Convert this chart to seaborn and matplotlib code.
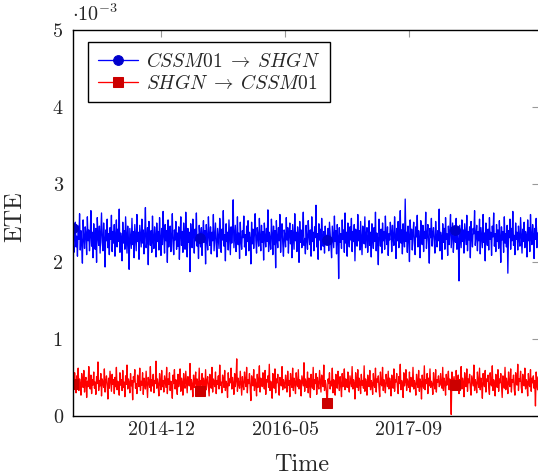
import numpy as np
import pandas as pd
import matplotlib
matplotlib.use("Agg")
import matplotlib.pyplot as plt
import seaborn as sns

# ETE values in units of 1e-5 (one value per sample)
cssm_to_shgn = [
    244, 226, 212, 238, 251, 219, 233, 207, 246, 229, 262, 215, 240, 223, 198, 254, 231, 217, 245, 236, 209, 258, 227, 241, 214, 233, 266, 220, 238, 205,
    249, 228, 216, 243, 199, 257, 232, 221, 246, 211, 238, 263, 225, 214, 250, 230, 193, 241, 227, 255, 218, 236, 209, 244, 229, 260, 213, 239, 224, 248,
    207, 235, 254, 219, 242, 226, 268, 212, 237, 229, 201, 251, 224, 240, 216, 258, 233, 211, 246, 227, 190, 243, 230, 217, 256, 222, 239, 205, 248, 231,
    214, 261, 226, 238, 203, 247, 232, 219, 255, 224, 241, 210, 236, 270, 218, 229, 244, 196, 252, 235, 221, 240, 212, 259, 228, 217, 245, 233, 206, 250,
    226, 239, 215, 257, 230, 208, 243, 222, 265, 234, 211, 248, 227, 240, 199, 254, 219, 236, 246, 213, 231, 262, 224, 209, 241, 228, 252, 216, 237, 220,
    245, 203, 234, 258, 221, 239, 212, 250, 229, 216, 264, 232, 206, 243, 225, 238, 187, 249, 230, 218, 255, 236, 211, 242, 227, 263, 220, 233, 204, 247,
    231, 219, 244, 208, 236, 253, 225, 240, 197, 248, 229, 215, 258, 234, 221, 245, 210, 238, 227, 261, 214, 232, 250, 223, 206, 243, 230, 217, 256, 236,
    212, 242, 228, 266, 220, 235, 201, 249, 226, 238, 215, 254, 231, 209, 245, 224, 240, 280, 218, 233, 247, 213, 229, 258, 222, 237, 204, 251, 227, 216,
    240, 231, 259, 219, 235, 208, 246, 226, 253, 214, 238, 229, 197, 251, 223, 242, 217, 236, 262, 228, 211, 244, 233, 220, 256, 230, 214, 247, 225, 239,
    202, 250, 232, 219, 243, 226, 267, 213, 238, 229, 216, 255, 235, 209, 246, 222, 240, 192, 253, 230, 218, 244, 227, 261, 212, 236, 249, 224, 207, 241,
    233, 219, 257, 228, 244, 211, 236, 250, 223, 240, 205, 248, 231, 216, 262, 227, 238, 213, 245, 234, 199, 252, 225, 241, 218, 236, 264, 221, 230, 210,
    247, 229, 216, 253, 235, 222, 241, 207, 258, 226, 238, 214, 245, 231, 273, 219, 236, 203, 249, 228, 242, 215, 256, 233, 220, 239, 211, 246, 227, 234,
    228, 243, 214, 251, 237, 222, 205, 246, 231, 218, 259, 226, 240, 210, 248, 233, 178, 244, 225, 236, 217, 254, 229, 241, 212, 263, 224, 238, 207, 250,
    232, 219, 245, 228, 256, 213, 239, 226, 248, 201, 242, 234, 220, 261, 227, 240, 215, 252, 230, 209, 246, 236, 223, 258, 218, 235, 244, 212, 229, 253,
    221, 238, 206, 249, 231, 217, 244, 226, 264, 214, 237, 229, 196, 255, 233, 220, 242, 211, 250, 227, 239, 216, 259, 232, 222, 245, 208, 236, 228, 251,
    239, 213, 247, 230, 221, 258, 234, 204, 243, 227, 252, 218, 236, 266, 224, 241, 210, 249, 231, 219, 281, 226, 238, 212, 246, 233, 200, 254, 229, 242,
    215, 237, 251, 224, 209, 245, 232, 260, 219, 240, 228, 205, 253, 236, 222, 247, 213, 239, 230, 264, 217, 234, 248, 225, 198, 243, 231, 256, 220, 237,
    244, 226, 211, 252, 233, 219, 240, 227, 268, 214, 238, 231, 203, 249, 225, 243, 216, 257, 229, 236, 208, 246, 222, 239, 261, 218, 235, 250, 212, 230,
    241, 225, 256, 216, 238, 229, 175, 247, 232, 218, 254, 226, 241, 211, 249, 235, 222, 260, 214, 239, 228, 245, 205, 252, 231, 219, 243, 236, 266, 221,
    233, 247, 214, 239, 227, 255, 210, 244, 230, 218, 261, 225, 237, 201, 250, 234, 221, 242, 215, 257, 229, 238, 208, 246, 232, 263, 220, 236, 213, 248,
    226, 241, 217, 253, 232, 199, 245, 228, 239, 212, 258, 224, 236, 219, 247, 185, 240, 231, 255, 216, 243, 227, 265, 221, 234, 209, 250, 229, 238, 215,
    246, 230, 220, 257, 235, 211, 242, 226, 251, 218, 239, 233, 206, 254, 227, 244, 213, 261, 231, 222, 248, 236, 204, 243, 229, 256, 218, 237, 225, 268,
]
shgn_to_cssm = [
    41, 47, 35, 56, 39, 30, 52, 44, 62, 33, 48, 41, 27, 55, 43, 37, 59, 31, 46, 50, 24, 45, 38, 64, 42, 35, 53, 29, 47, 40,
    57, 36, 44, 28, 51, 42, 70, 33, 46, 39, 55, 26, 48, 43, 37, 61, 31, 45, 52, 40, 22, 49, 36, 58, 44, 32, 54, 41, 47, 29,
    50, 38, 63, 34, 45, 42, 27, 56, 40, 47, 33, 59, 37, 44, 25, 52, 41, 66, 35, 48, 43, 30, 55, 39, 46, 21, 51, 44, 60, 36,
    42, 29, 53, 47, 38, 62, 33, 45, 40, 56, 28, 49, 43, 35, 58, 41, 24, 50, 44, 37, 64, 32, 47, 39, 54, 30, 46, 42, 71, 36,
    48, 40, 26, 55, 43, 34, 59, 38, 46, 31, 52, 44, 37, 63, 29, 48, 41, 56, 33, 45, 39, 23, 53, 42, 60, 35, 47, 40, 28, 54,
    38, 45, 61, 32, 49, 43, 27, 55, 40, 36, 58, 44, 30, 51, 46, 39, 68, 34, 47, 41, 25, 53, 37, 44, 57, 31, 48, 42, 35, 62,
    32, 46, 40, 55, 28, 49, 43, 37, 60, 34, 45, 51, 39, 26, 54, 42, 36, 63, 31, 48, 44, 38, 57, 29, 46, 41, 52, 35, 66, 40,
    44, 30, 53, 47, 37, 59, 33, 45, 41, 24, 56, 39, 48, 43, 62, 35, 50, 42, 28, 55, 38, 46, 74, 32, 49, 41, 36, 58, 43, 27,
    51, 40, 34, 57, 45, 38, 63, 30, 47, 42, 55, 36, 20, 52, 44, 39, 60, 33, 48, 41, 26, 54, 37, 46, 65, 31, 49, 43, 38, 56,
    42, 35, 59, 28, 47, 44, 52, 37, 67, 33, 45, 40, 23, 55, 42, 36, 61, 30, 48, 43, 54, 38, 27, 50, 45, 39, 64, 34, 47, 41,
    36, 53, 44, 31, 58, 40, 46, 25, 55, 42, 37, 62, 33, 49, 44, 29, 56, 41, 38, 60, 35, 47, 43, 26, 52, 45, 39, 69, 32, 48,
    43, 37, 57, 30, 49, 44, 24, 54, 41, 36, 63, 34, 47, 42, 55, 28, 50, 40, 35, 59, 45, 31, 53, 43, 38, 66, 33, 46, 41, 27,
    17, 48, 42, 56, 35, 45, 39, 62, 30, 47, 43, 27, 54, 40, 36, 58, 44, 33, 51, 41, 25, 55, 38, 46, 61, 34, 48, 42, 37, 57,
    40, 31, 52, 45, 38, 64, 35, 47, 42, 22, 56, 41, 37, 60, 33, 49, 44, 29, 54, 40, 46, 36, 65, 32, 48, 43, 27, 53, 41, 38,
    59, 34, 46, 42, 28, 55, 40, 37, 62, 31, 48, 44, 52, 36, 25, 57, 42, 39, 63, 33, 47, 41, 30, 54, 45, 38, 58, 35, 49, 43,
    26, 53, 40, 36, 61, 32, 47, 44, 55, 38, 29, 51, 42, 67, 34, 46, 41, 24, 56, 39, 45, 60, 33, 48, 43, 37, 57, 31, 50, 42,
    38, 63, 35, 46, 41, 27, 54, 43, 37, 59, 32, 48, 44, 22, 53, 40, 36, 65, 34, 47, 42, 55, 29, 49, 39, 61, 37, 45, 41, 28,
    56, 42, 35, 60, 31, 47, 44, 52, 38, 40, 55, 41, 36, 63, 33, 49, 43, 27, 54, 40, 46, 58, 34, 48, 42, 2, 57, 39, 45, 51,
    40, 34, 59, 43, 37, 53, 29, 47, 42, 64, 35, 49, 44, 25, 56, 40, 38, 61, 32, 48, 43, 54, 36, 27, 52, 45, 39, 66, 33, 47,
    42, 30, 57, 44, 37, 62, 34, 49, 41, 23, 55, 43, 38, 59, 31, 48, 45, 53, 36, 28, 56, 42, 39, 65, 33, 47, 41, 26, 54, 44,
    37, 60, 32, 48, 43, 55, 39, 24, 52, 45, 36, 63, 34, 49, 42, 29, 57, 41, 38, 61, 31, 47, 44, 53, 35, 27, 56, 43, 40, 67,
    33, 48, 45, 58, 37, 30, 54, 42, 39, 62, 35, 47, 44, 26, 55, 41, 38, 60, 32, 49, 43, 52, 36, 46, 13, 57, 40, 34, 51, 8,
]
tick_labels = ["2014-12", "2016-05", "2017-09"]
series_labels = [r"$CSSM01 \;\rightarrow\; SHGN$", r"$SHGN \;\rightarrow\; CSSM01$"]

sns.set_theme(style="white")
plt.rcParams["font.family"] = "serif"
plt.rcParams["font.serif"] = ["cmr10"]
plt.rcParams["mathtext.fontset"] = "cm"
plt.rcParams["axes.unicode_minus"] = False
plt.rcParams["axes.formatter.use_mathtext"] = True

n = len(cssm_to_shgn)
df = pd.DataFrame({
    "idx": np.arange(n),
    "a": np.array(cssm_to_shgn) / 100.0,
    "b": np.array(shgn_to_cssm) / 100.0,
})
mark_step = 180

fig = plt.figure(figsize=(5.38, 4.75), dpi=100)
ax = fig.add_axes([72.5 / 538, 59 / 475, 466.5 / 538, 386 / 475])

sns.lineplot(data=df, x="idx", y="a", ax=ax, color="#0000ff", lw=0.95,
             marker="o", markersize=7, markevery=mark_step, mfc="#0000cc", mec="#0000cc",
             label=series_labels[0])
sns.lineplot(data=df, x="idx", y="b", ax=ax, color="#ff0000", lw=0.95,
             marker="s", markersize=6.5, markevery=mark_step, mfc="#cc0000", mec="#cc0000",
             label=series_labels[1])

ax.set_xlim(0, n - 1)
ax.set_ylim(0, 5)
ax.set_yticks([0, 1, 2, 3, 4, 5])
ax.set_yticklabels(["0", "1", "2", "3", "4", "5"])
step = (n - 1) * 123.6 / 466.5
ax.set_xticks([step * (0.72 + k) for k in range(len(tick_labels))])
ax.set_xticklabels(tick_labels)

ax.tick_params(direction="in", length=5, width=0.8, color="0.6",
               top=True, right=True, labelsize=14.5)
ax.tick_params(axis="x", pad=4)
ax.tick_params(axis="y", pad=7)
for s in ax.spines.values():
    s.set_color("black")
    s.set_linewidth(1.0)

ax.set_xlabel("Time", fontsize=17.5)
ax.set_ylabel("ETE", fontsize=17.5)
ax.xaxis.set_label_coords(0.491, -0.097)
ax.yaxis.set_label_coords(-0.1, 0.5155)
ax.text(0.0, 1.012, r"$\cdot 10^{-3}$", transform=ax.transAxes,
        fontsize=14.5, ha="left", va="bottom")

leg = ax.legend(loc="upper left", bbox_to_anchor=(0.033, 0.969), borderaxespad=0,
                fontsize=14, frameon=True, fancybox=False, edgecolor="black",
                handlelength=2.1, handletextpad=0.4, borderpad=0.5,
                labelspacing=0.15)
leg.get_frame().set_linewidth(1.0)
leg.get_frame().set_alpha(1)

fig.savefig("out.png", dpi=100)
